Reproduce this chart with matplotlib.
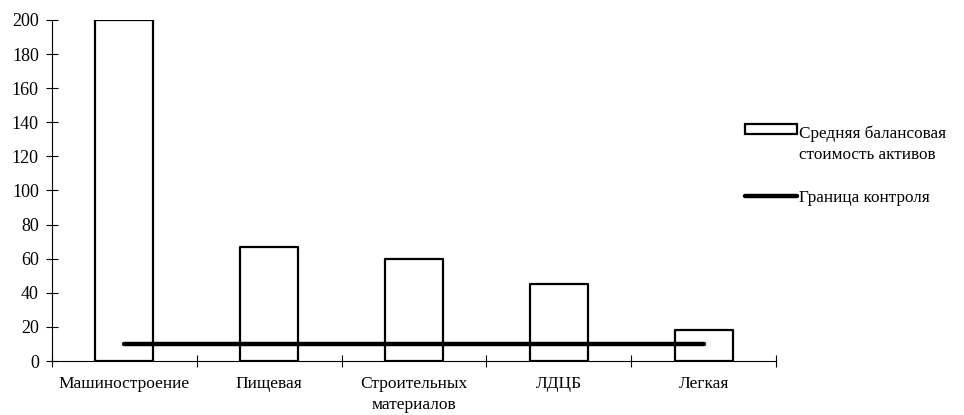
import matplotlib
matplotlib.use('Agg')
from matplotlib import pyplot as plt
import numpy as np

# Data:
categories = ['Машиностроение', 'Пищевая', 'Строительных\nматериалов', 'ЛДЦБ', 'Легкая']
assets = [200, 67, 60, 45, 18]
control = [10, 10, 10, 10, 10]

plt.rcParams['font.family'] = ['Liberation Serif', 'DejaVu Serif']
plt.rcParams['font.size'] = 12.5

figure = plt.figure(figsize=(9.64, 4.15), dpi=100)
ax = figure.add_axes([0.054, 0.130, 0.751, 0.822])

x = np.arange(len(categories))

# Bars:
bars = ax.bar(x, assets, width=0.4, facecolor='white', edgecolor='black',
              linewidth=1.6, joinstyle='round', zorder=2)

# Control line:
line, = ax.plot(x, control, color='black', linewidth=3.2, solid_capstyle='round', zorder=3)

ax.set_xlim(-0.5, len(categories) - 0.5)
ax.set_ylim(0, 200)
ax.set_yticks(np.arange(0, 201, 20))

ax.set_xticks(x)
ax.set_xticklabels(categories, fontsize=12.5, linespacing=1.35)
ax.set_xticks(np.arange(-0.5, len(categories), 1), minor=True)
ax.tick_params(axis='x', which='major', length=0, pad=11)
ax.tick_params(axis='x', which='minor', direction='inout', length=9, width=0.8)
ax.tick_params(axis='y', direction='inout', length=9, width=0.8, pad=5, labelsize=13)

for s in ['top', 'right']:
    ax.spines[s].set_visible(False)
ax.spines['left'].set_linewidth(0.8)
ax.spines['bottom'].set_linewidth(0.8)

leg = ax.legend([bars, line], ['Средняя балансовая\nстоимость активов', 'Граница контроля'],
                loc='upper left', bbox_to_anchor=(0.773, 0.698), bbox_transform=figure.transFigure,
                frameon=False, borderpad=0, borderaxespad=0,
                handlelength=3.05, handleheight=0.55, handletextpad=0.12,
                labelspacing=1.6, fontsize=12.3)
for t in leg.get_texts():
    t.set_linespacing(1.4)

# Box handle sits beside the first text line in the reference
box = leg.legend_handles[0]
box.set_y(box.get_y() + 11)

plt.savefig('out.png', dpi=100)
plt.close()
